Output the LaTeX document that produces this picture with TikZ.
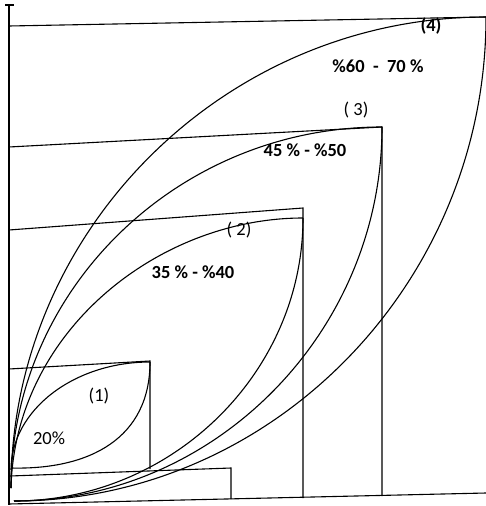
\documentclass[tikz,border=0pt]{standalone}
\usepackage{fontspec}
\setmainfont{Carlito}
\begin{document}
\begin{tikzpicture}[x=1pt,y=-1pt,
  ln/.style={line width=1.1pt,black},
  lbl/.style={font=\fontsize{18.5}{21}\selectfont,inner sep=0pt},
  blbl/.style={font=\fontsize{18.5}{21}\selectfont\bfseries,inner sep=0pt}]
\useasboundingbox (0,0) rectangle (486,506);
% axes
\coordinate (ytop) at (9,5);
\coordinate (ybot) at (9,505);
\coordinate (tl) at (5,5);
\coordinate (tr) at (14,5);
\coordinate (xl) at (9,504);
\coordinate (xr) at (486,493);
\draw[ln] (ytop) -- (ybot);
\draw[ln] (tl) -- (tr);
\draw[ln] (xl) -- (xr);
% rectangles (top lines and right sides)
\coordinate (r4l) at (9,26);
\coordinate (r4r) at (486,17);
\draw[ln] (r4l) -- (r4r);
\coordinate (r3l) at (9,147);
\coordinate (r3r) at (382,127);
\coordinate (r3b) at (382,496);
\draw[ln] (r3l) -- (r3r) -- (r3b);
\coordinate (r2l) at (9,230);
\coordinate (r2r) at (303,208);
\coordinate (r2b) at (303,498);
\draw[ln] (r2l) -- (r2r) -- (r2b);
\coordinate (r1l) at (9,369);
\coordinate (r1r) at (150,361);
\coordinate (r1b) at (150,469);
\draw[ln] (r1l) -- (r1r) -- (r1b);
\coordinate (r0l) at (10,476);
\coordinate (r0r) at (231,468);
\coordinate (r0b) at (231,499);
\draw[ln] (r0l) -- (r0r) -- (r0b);
% lens 1
\coordinate (o1) at (11,470);
\coordinate (e1) at (150,362);
\draw[ln] (o1) .. controls (11,410) and (74,362) .. (e1);
\coordinate (o1b) at (11,468);
\draw[ln] (o1b) .. controls (90,470) and (150,438) .. (e1);
% lens 2
\coordinate (ou) at (11,488);
\coordinate (ol) at (14,501);
\coordinate (e2) at (303,218);
\draw[ln] (ou) .. controls (15,330) and (160,218) .. (e2);
\draw[ln] (ol) .. controls (172,501) and (303,373) .. (e2);
% lens 3
\coordinate (e3) at (382,127);
\draw[ln] (ou) .. controls (11,289) and (178,127) .. (e3);
\draw[ln] (ol) .. controls (215,501) and (382,332) .. (e3);
% lens 4
\coordinate (e4) at (486,17);
\draw[ln] (ou) .. controls (11,230) and (225,17) .. (e4);
\draw[ln] (ol) .. controls (272,501) and (486,284) .. (e4);
% labels
\node[blbl] (l4) at (431,26) {(4)};
\node[blbl] (p4) at (378,66) {\%60\ \ -\ \ 70 \%};
\node[lbl] (l3) at (356,110) {( 3)};
\node[blbl] (p3) at (305,150) {45 \% - \%50};
\node[lbl] (l2) at (239,230) {( 2)};
\node[blbl] (p2) at (193,272) {35 \% - \%40};
\node[lbl] (l1) at (99,396) {(1)};
\node[lbl] (p1) at (49,438) {20\%};
\end{tikzpicture}
\end{document}
